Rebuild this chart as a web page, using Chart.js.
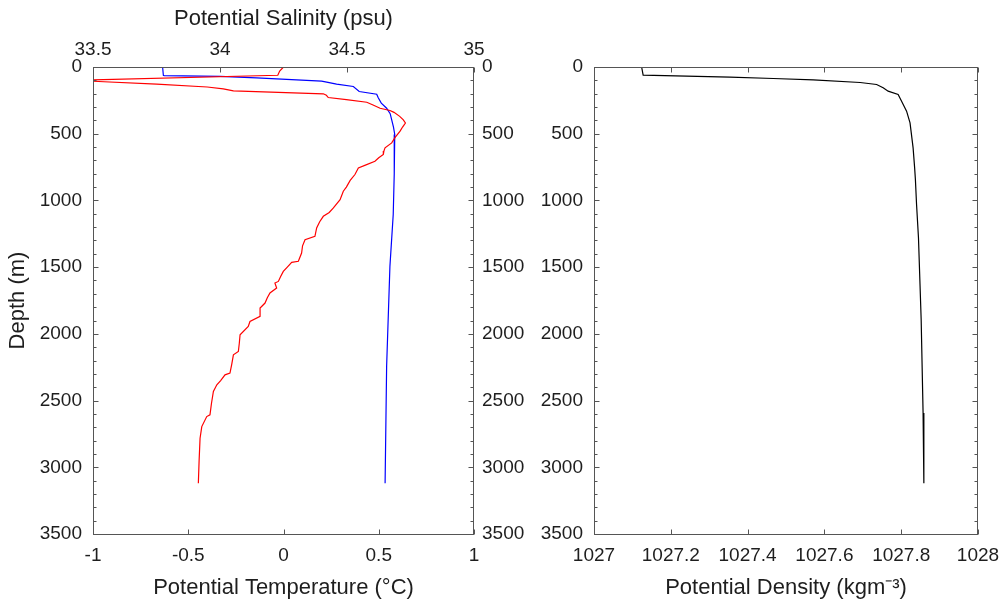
<!DOCTYPE html>
<html>
<head>
<meta charset="utf-8">
<script src="https://cdn.jsdelivr.net/npm/chart.js@4.4.1/dist/chart.umd.min.js"></script>
<style>
  html, body { margin: 0; padding: 0; background: #ffffff; }
  body { width: 1002px; height: 606px; position: relative; overflow: hidden; }
  canvas { position: absolute; top: 0; }
  #c1 { left: 0; }
  #c2 { left: 520px; }
</style>
</head>
<body>
<canvas id="c1" width="540" height="606"></canvas>
<canvas id="c2" width="482" height="606"></canvas>
<script>
// ---------- data ----------
const tempDepth = [0, 30, 62, 100, 129, 150, 164, 179, 201, 212, 229, 245, 264, 285, 309, 326, 340, 370, 396, 420, 450, 481, 530, 569, 606, 630, 656, 680, 706, 735, 756, 806, 850, 900, 931, 994, 1056, 1090, 1119, 1160, 1206, 1269, 1294, 1340, 1394, 1456, 1464, 1500, 1532, 1570, 1607, 1619, 1657, 1694, 1730, 1769, 1807, 1869, 1907, 1945, 2007, 2070, 2132, 2157, 2230, 2294, 2307, 2350, 2382, 2432, 2520, 2607, 2620, 2695, 2782, 2950, 3120];
const tempValues = [0.00, -0.02, -0.03, -1.10, -0.666, -0.40, -0.316, -0.263, 0.209, 0.225, 0.235, 0.33, 0.437, 0.47, 0.507, 0.559, 0.58, 0.61, 0.629, 0.64, 0.625, 0.612, 0.585, 0.568, 0.533, 0.527, 0.524, 0.50, 0.48, 0.43, 0.393, 0.375, 0.35, 0.33, 0.314, 0.297, 0.262, 0.24, 0.209, 0.19, 0.174, 0.165, 0.113, 0.10, 0.095, 0.078, 0.043, 0.02, -0.001, -0.015, -0.027, -0.045, -0.036, -0.071, -0.085, -0.097, -0.123, -0.123, -0.176, -0.185, -0.228, -0.232, -0.237, -0.263, -0.272, -0.281, -0.307, -0.33, -0.35, -0.368, -0.378, -0.386, -0.403, -0.429, -0.438, -0.443, -0.447];

const salDepth = [0, 62, 64, 71, 81, 106, 114, 129, 146, 184, 204, 231, 271, 309, 350, 396, 450, 506, 800, 1106, 1494, 2244, 3120];
const salValues = [33.774, 33.777, 33.78, 34.0, 34.144, 34.40, 34.42, 34.459, 34.525, 34.548, 34.617, 34.623, 34.635, 34.656, 34.67, 34.676, 34.683, 34.688, 34.686, 34.682, 34.669, 34.656, 34.65];

const densDepth = [0, 61, 76, 86, 96, 116, 131, 156, 181, 206, 256, 331, 419, 606, 756, 844, 1031, 1281, 1894, 2594, 3120];
const densValues = [1027.124, 1027.128, 1027.354, 1027.467, 1027.571, 1027.693, 1027.736, 1027.753, 1027.766, 1027.792, 1027.801, 1027.814, 1027.823, 1027.831, 1027.835, 1027.837, 1027.840, 1027.845, 1027.852, 1027.857, 1027.859];

const tempTicks = [-1, -0.5, 0, 0.5, 1];
const salTicks = [33.5, 34, 34.5, 35];
const depthTicks = [0, 500, 1000, 1500, 2000, 2500, 3000, 3500];
const densTicks = [1027, 1027.2, 1027.4, 1027.6, 1027.8, 1028];

// ---------- styling ----------
const FONT = "'Liberation Sans', Arial, Helvetica, sans-serif";
const TXT = '#1e1e1e';
const AXC = '#555555';
const tickFont = { family: FONT, size: 19 };
const titleFont = { family: FONT, size: 22 };

function pts(xs, ys) { return ys.map((y, i) => ({ x: xs[i], y: y })); }
function setTicks(arr) { return s => { s.ticks = arr.map(v => ({ value: v })); }; }
const fmt = v => String(v);

// frame + inward tick marks plugin
const frameTicks = {
  id: 'frameTicks',
  afterDatasetsDraw(chart, args, opts) {
    const { ctx, chartArea: a } = chart;
    const L = Math.round(a.left) + 0.5, R = Math.round(a.right) - 0.5;
    const T = Math.round(a.top) + 0.5, B = Math.round(a.bottom) + 0.5;
    ctx.save();
    ctx.strokeStyle = AXC;
    ctx.lineWidth = 1;
    ctx.beginPath();
    for (const s of opts.sides) {
      const sc = chart.scales[s.scale];
      const list = sc.ticks.map(t => ({ v: t.value, len: 5 }));
      if (s.minor) {
        for (let v = sc.min; v <= sc.max + 1e-9; v += s.minor) {
          if (!list.some(t => Math.abs(t.v - v) < 1e-6)) list.push({ v: v, len: 3 });
        }
      }
      for (const t of list) {
        const p = Math.round(sc.getPixelForValue(t.v)) + 0.5;
        if (s.side === 'bottom') { ctx.moveTo(p, B); ctx.lineTo(p, B - t.len); }
        else if (s.side === 'top') { ctx.moveTo(p, T); ctx.lineTo(p, T + t.len); }
        else if (s.side === 'left') { ctx.moveTo(L, p); ctx.lineTo(L + t.len, p); }
        else if (s.side === 'right') { ctx.moveTo(R, p); ctx.lineTo(R - t.len, p); }
      }
    }
    ctx.stroke();
    ctx.strokeRect(L, T, R - L, B - T);
    ctx.restore();
  }
};
Chart.register(frameTicks);

const common = (extra) => Object.assign({
  grid: { display: false, drawTicks: false },
  border: { display: false }
}, extra);

// ---------- left chart ----------
new Chart(document.getElementById('c1'), {
  type: 'scatter',
  data: {
    datasets: [
      { label: 'Potential Temperature', data: pts(tempValues, tempDepth), xAxisID: 'x', yAxisID: 'y',
        showLine: true, borderColor: '#ff0000', borderWidth: 1.2, pointRadius: 0, fill: false, tension: 0 },
      { label: 'Potential Salinity', data: pts(salValues, salDepth), xAxisID: 'x2', yAxisID: 'y',
        showLine: true, borderColor: '#0000ff', borderWidth: 1.2, pointRadius: 0, fill: false, tension: 0 }
    ]
  },
  options: {
    responsive: false, animation: false, devicePixelRatio: 1,
    layout: { padding: 0 },
    plugins: {
      legend: { display: false }, tooltip: { enabled: false },
      frameTicks: { sides: [
        { side: 'bottom', scale: 'x' }, { side: 'top', scale: 'x2' },
        { side: 'left', scale: 'y', minor: 100 }, { side: 'right', scale: 'y', minor: 100 }
      ] }
    },
    scales: {
      x: common({ type: 'linear', position: 'bottom', min: -1, max: 1,
        afterBuildTicks: setTicks(tempTicks),
        ticks: { font: tickFont, color: TXT, padding: 10, maxRotation: 0, autoSkip: false, callback: fmt },
        title: { display: true, text: 'Potential Temperature (°C)', font: titleFont, color: TXT, padding: { top: 0, bottom: 5 } },
        afterFit: s => { s.height = 72; s.paddingLeft = 0; s.paddingRight = 0; } }),
      x2: common({ type: 'linear', position: 'top', min: 33.5, max: 35,
        afterBuildTicks: setTicks(salTicks),
        ticks: { font: tickFont, color: TXT, padding: 6, maxRotation: 0, autoSkip: false, callback: fmt },
        title: { display: true, text: 'Potential Salinity (psu)', font: titleFont, color: TXT, padding: { top: 6, bottom: 0 } },
        afterFit: s => { s.height = 67; s.paddingLeft = 0; s.paddingRight = 0; } }),
      y: common({ type: 'linear', position: 'left', reverse: true, min: 0, max: 3500,
        afterBuildTicks: setTicks(depthTicks),
        ticks: { font: tickFont, color: TXT, padding: 11, autoSkip: false, callback: fmt },
        title: { display: true, text: 'Depth (m)', font: titleFont, color: TXT, padding: { top: 5, bottom: 0 } },
        afterFit: s => { s.width = 93; } }),
      y2: common({ type: 'linear', position: 'right', reverse: true, min: 0, max: 3500,
        afterBuildTicks: setTicks(depthTicks),
        ticks: { font: tickFont, color: TXT, padding: 8, autoSkip: false, callback: fmt },
        afterFit: s => { s.width = 66; } })
    }
  }
});

// ---------- right chart ----------
new Chart(document.getElementById('c2'), {
  type: 'scatter',
  data: {
    datasets: [
      { label: 'Potential Density', data: pts(densValues, densDepth),
        showLine: true, borderColor: '#000000', borderWidth: 1.2, pointRadius: 0, fill: false, tension: 0 }
    ]
  },
  options: {
    responsive: false, animation: false, devicePixelRatio: 1,
    layout: { padding: { top: 67, right: 24, left: 0, bottom: 0 } },
    plugins: {
      legend: { display: false }, tooltip: { enabled: false },
      frameTicks: { sides: [
        { side: 'bottom', scale: 'x' }, { side: 'top', scale: 'x' },
        { side: 'left', scale: 'y', minor: 100 }, { side: 'right', scale: 'y', minor: 100 }
      ] }
    },
    scales: {
      x: common({ type: 'linear', position: 'bottom', min: 1027, max: 1028,
        afterBuildTicks: setTicks(densTicks),
        ticks: { font: tickFont, color: TXT, padding: 10, maxRotation: 0, autoSkip: false, callback: fmt },
        title: { display: true, text: 'Potential Density (kgm⁻³)', font: titleFont, color: TXT, padding: { top: 0, bottom: 5 } },
        afterFit: s => { s.height = 72; s.paddingLeft = 0; s.paddingRight = 0; } }),
      y: common({ type: 'linear', position: 'left', reverse: true, min: 0, max: 3500,
        afterBuildTicks: setTicks(depthTicks),
        ticks: { font: tickFont, color: TXT, padding: 11, autoSkip: false, callback: fmt },
        afterFit: s => { s.width = 74; s.paddingTop = 0; s.paddingBottom = 0; } })
    }
  }
});
</script>
</body>
</html>
